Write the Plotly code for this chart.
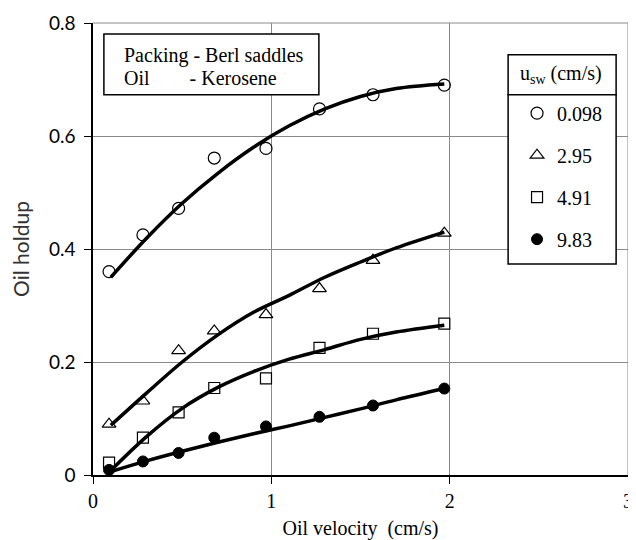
import plotly.graph_objects as go

# ---- data ----
oil_velocity = [0.09, 0.28, 0.48, 0.68, 0.97, 1.27, 1.57, 1.97]
holdup_0098 = [0.360, 0.425, 0.472, 0.561, 0.578, 0.648, 0.673, 0.690]
holdup_295 = [0.090, 0.131, 0.220, 0.255, 0.284, 0.330, 0.380, 0.428]
holdup_491 = [0.022, 0.066, 0.111, 0.154, 0.171, 0.225, 0.250, 0.268]
holdup_983 = [0.009, 0.024, 0.039, 0.066, 0.086, 0.103, 0.123, 0.153]

fit_velocity = [0.1, 0.3, 0.5, 0.7, 0.9, 1.1, 1.3, 1.5, 1.7, 1.97]
fit_0098 = [0.350, 0.419, 0.481, 0.534, 0.580, 0.618, 0.648, 0.670, 0.684, 0.692]
fit_295 = [0.088, 0.145, 0.200, 0.248, 0.288, 0.318, 0.350, 0.377, 0.402, 0.430]
fit_491 = [0.008, 0.068, 0.118, 0.155, 0.183, 0.205, 0.222, 0.240, 0.253, 0.265]
fit_983 = [0.006, 0.025, 0.042, 0.058, 0.073, 0.087, 0.102, 0.117, 0.133, 0.153]

series_labels = ["0.098", "2.95", "4.91", "9.83"]
x_ticks = [0, 1, 2, 3]
y_ticks = [0, 0.2, 0.4, 0.6, 0.8]
y_tick_text = ["0", "0.2", "0.4", "0.6", "0.8"]

# page has an 8px body margin -> compensate
OFF = 8
PAGE_W, PAGE_H = 636, 540
W, H = PAGE_W - OFF, PAGE_H - OFF
L, R, T, B = 93, 633, 21, 475   # plot area in page pixels


def px(xp):
    return (xp - L) / (R - L)


def py(yp):
    return (B - yp) / (B - T)


SERIF = "Liberation Serif"
SANS = "Lato"
GRID = "#8a8a8a"

fig = go.Figure()

marker_styles = [
    dict(symbol="circle-open", size=12, color="black", line=dict(width=1.2, color="black")),
    dict(symbol="triangle-up-open", size=12, color="black", line=dict(width=1.2, color="black")),
    dict(symbol="square-open", size=11, color="black", line=dict(width=1.2, color="black")),
    dict(symbol="circle", size=11, color="black", line=dict(width=1, color="black")),
]
holdups = [holdup_0098, holdup_295, holdup_491, holdup_983]
fits = [fit_0098, fit_295, fit_491, fit_983]

for fy in fits:
    fig.add_trace(go.Scatter(
        x=fit_velocity, y=fy, mode="lines", line=dict(color="black", width=3.5, shape="spline"),
        showlegend=False, hoverinfo="skip"))
for i, hy in enumerate(holdups):
    fig.add_trace(go.Scatter(
        x=oil_velocity, y=hy, mode="markers", marker=marker_styles[i],
        name=series_labels[i], legendgroup=f"g{i}", showlegend=True))

axis_common = dict(
    showgrid=True, gridcolor=GRID, gridwidth=1,
    showline=True, linecolor="black", linewidth=1.5,
    ticks="outside", ticklen=7, tickcolor="black", tickwidth=1,
    zeroline=False, fixedrange=True,
)

fig.update_layout(
    width=W, height=H,
    margin=dict(l=L - OFF, r=W - (R - OFF), t=T - OFF, b=H - (B - OFF), pad=0),
    paper_bgcolor="white", plot_bgcolor="white",
    xaxis=dict(range=[0, 3], tickvals=x_ticks, ticktext=[str(v) for v in x_ticks],
               tickfont=dict(family=SERIF, size=20, color="black"), ticklabeloverflow="allow",
               title=dict(text="Oil velocity  (cm/s)", font=dict(family=SERIF, size=20, color="black"), standoff=10),
               **axis_common),
    yaxis=dict(range=[0, 0.8], tickvals=y_ticks, ticktext=y_tick_text,
               tickfont=dict(family=SANS, size=19, color="black"), ticklabelstandoff=5,
               title=dict(text="Oil holdup", font=dict(family=SANS, size=21, color="#333"), standoff=18),
               **axis_common),
    legend=dict(
        x=px(521), y=py(92), xanchor="left", yanchor="top",
        bgcolor="rgba(0,0,0,0)", borderwidth=0,
        font=dict(family=SERIF, size=20, color="black"),
        tracegroupgap=13, traceorder="grouped", itemwidth=30,
    ),
    showlegend=True,
)

# gridlines at the range edges
fig.add_shape(type="line", xref="paper", yref="paper", x0=0, x1=1, y0=1, y1=1,
              line=dict(color=GRID, width=1), layer="below")
fig.add_shape(type="line", xref="paper", yref="paper", x0=1, x1=1, y0=0, y1=1,
              line=dict(color=GRID, width=1), layer="below")

# text box (packing / oil)
fig.add_shape(type="rect", xref="paper", yref="paper",
              x0=px(104), x1=px(321), y0=py(93), y1=py(32),
              fillcolor="white", line=dict(color="black", width=1.5), layer="above")
fig.add_annotation(xref="paper", yref="paper", x=px(122), y=py(54), xanchor="left", yanchor="middle",
                   text="Packing - Berl saddles", showarrow=False,
                   font=dict(family=SERIF, size=20, color="black"))
fig.add_annotation(xref="paper", yref="paper", x=px(122), y=py(76), xanchor="left", yanchor="middle",
                   text="Oil" + "&#160;" * 8 + "- Kerosene", showarrow=False,
                   font=dict(family=SERIF, size=20, color="black"))

# legend boxes
fig.add_shape(type="rect", xref="paper", yref="paper",
              x0=px(512), x1=px(621), y0=py(93), y1=py(53),
              fillcolor="white", line=dict(color="black", width=1.5), layer="above")
fig.add_shape(type="rect", xref="paper", yref="paper",
              x0=px(512), x1=px(621), y0=py(263), y1=py(93),
              fillcolor="white", line=dict(color="black", width=1.5), layer="above")
fig.add_annotation(xref="paper", yref="paper", x=px(565), y=py(73), xanchor="center", yanchor="middle",
                   text="u<sub>sw</sub> (cm/s)", showarrow=False,
                   font=dict(family=SERIF, size=20, color="black"))

fig.write_html("out.html")
